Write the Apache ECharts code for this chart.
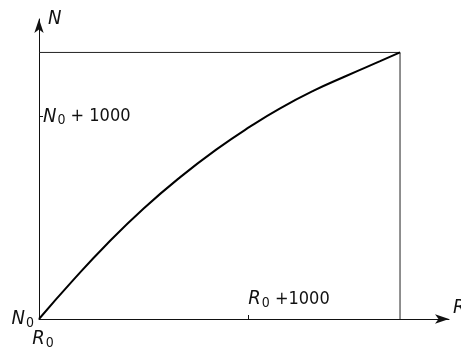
<!DOCTYPE html>
<html>
<head>
<meta charset="utf-8">
<script src="https://cdn.jsdelivr.net/npm/echarts@6/dist/echarts.min.js"></script>
<style>
html,body{margin:0;padding:0;background:#fff;}
#chart{width:461px;height:347px;}
</style>
</head>
<body>
<div id="chart"></div>
<script>
// 数据单位: R-R0, N-N0
const X_MAX=1959, Y_MAX=1480;
const curveR=[0,160,325,500,675,850,1010,1150,1310,1470,1630,1725];
const curveN=[0,188,370,545,700,838,950,1038,1125,1200,1272,1315];
const boxR=[0,1725,1725];
const boxN=[1315,1315,0];
const xTicks=[1000], yTicks=[1000];
const xOrigin='R', yOrigin='N';

const FONT="'Liberation Sans Narrow','DejaVu Sans Condensed','Liberation Sans',sans-serif";
const rich={
    it:{fontFamily:FONT,fontStyle:'italic',fontSize:20,color:'#111'},
    sub:{fontFamily:FONT,fontSize:14,color:'#111',padding:[8,0,0,1]},
    tx:{fontFamily:FONT,fontSize:18,color:'#111'}
};
function pair(a,b){return a.map((v,i)=>[v,b[i]]);}

var chart=echarts.init(document.getElementById('chart'),null,{renderer:'canvas'});
var lineStyle={color:'#111',width:1};
var arrow={show:true,symbol:['none','arrow'],symbolSize:[7,14],lineStyle:lineStyle};
chart.setOption({
    animation:false,
    grid:{left:39,right:12,top:19,bottom:28,outerBoundsMode:'none',containLabel:false},
    xAxis:[{
        type:'value',min:0,max:X_MAX,interval:1000,
        axisLine:arrow,splitLine:{show:false},
        axisTick:{show:true,inside:true,length:4,lineStyle:lineStyle,customValues:xTicks},
        axisLabel:{inside:true,margin:9,align:'left',verticalAlign:'bottom',customValues:xTicks,rich:rich,
            formatter:v=>'{it|'+xOrigin+'}{sub|0}{tx| +'+v+'}'},
        name:'R',nameLocation:'end',nameGap:4,
        nameTextStyle:{fontFamily:FONT,fontStyle:'italic',fontSize:20,color:'#111',align:'left',verticalAlign:'bottom',padding:[0,0,1,0]}
    },{
        type:'value',min:0,max:X_MAX,position:'bottom',
        axisLine:{show:false},axisTick:{show:false},splitLine:{show:false},
        axisLabel:{margin:9,align:'center',verticalAlign:'top',customValues:[0],rich:rich,padding:[0,0,0,8],
            formatter:v=>'{it|'+xOrigin+'}{sub|0}'}
    }],
    yAxis:[{
        type:'value',min:0,max:Y_MAX,interval:1000,
        axisLine:arrow,splitLine:{show:false},
        axisTick:{show:true,inside:true,length:4,lineStyle:lineStyle,customValues:yTicks},
        axisLabel:{inside:true,margin:4,verticalAlign:'middle',customValues:yTicks,rich:rich,
            formatter:v=>'{it|'+yOrigin+'}{sub|0}{tx| + '+v+'}'},
        name:'N',nameLocation:'end',nameGap:0,
        nameTextStyle:{fontFamily:FONT,fontStyle:'italic',fontSize:20,color:'#111',align:'left',verticalAlign:'middle',padding:[2,0,0,9]}
    },{
        type:'value',min:0,max:Y_MAX,position:'left',
        axisLine:{show:false},axisTick:{show:false},splitLine:{show:false},
        axisLabel:{margin:5,align:'right',verticalAlign:'middle',customValues:[0],rich:rich,
            formatter:v=>'{it|'+yOrigin+'}{sub|0}'}
    }],
    series:[
        {type:'line',data:pair(boxR,boxN),showSymbol:false,lineStyle:{color:'#222',width:1},silent:true},
        {type:'line',data:pair(curveR,curveN),showSymbol:false,smooth:true,lineStyle:{color:'#000',width:2},silent:true}
    ]
});
</script>
</body>
</html>
